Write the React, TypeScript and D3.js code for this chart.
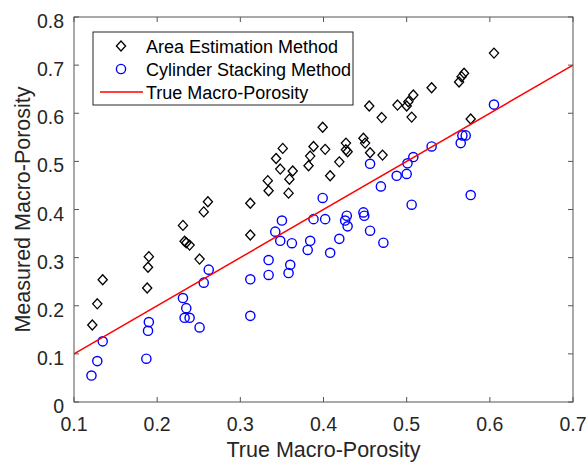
import React from 'react';
import * as d3 from 'd3';

// 面积估计法 (true, measured)
const areaX = [0.122, 0.128, 0.1345, 0.188, 0.189, 0.190, 0.231, 0.233, 0.235, 0.239, 0.251, 0.256, 0.261, 0.312, 0.312,
  0.333, 0.334, 0.343, 0.348, 0.351, 0.358, 0.359, 0.363, 0.382, 0.384, 0.388, 0.399, 0.402, 0.408, 0.419,
  0.427, 0.427, 0.429, 0.448, 0.450, 0.456, 0.471, 0.470, 0.455, 0.489, 0.500, 0.502, 0.508, 0.506, 0.530,
  0.563, 0.566, 0.569, 0.605, 0.577];
const areaY = [0.160, 0.204, 0.254, 0.237, 0.280, 0.302, 0.367, 0.334, 0.331, 0.326, 0.297, 0.395, 0.416, 0.413, 0.347,
  0.460, 0.439, 0.506, 0.484, 0.527, 0.434, 0.463, 0.480, 0.491, 0.511, 0.531, 0.571, 0.525, 0.470, 0.499,
  0.538, 0.524, 0.520, 0.548, 0.538, 0.518, 0.513, 0.591, 0.615, 0.617, 0.615, 0.624, 0.638, 0.592, 0.653,
  0.665, 0.676, 0.683, 0.725, 0.588];

// 圆柱堆叠法
const cylX = [0.121, 0.128, 0.1345, 0.187, 0.189, 0.190, 0.231, 0.235, 0.233, 0.239, 0.251, 0.256, 0.262, 0.312, 0.312,
  0.334, 0.334, 0.342, 0.350, 0.348, 0.362, 0.360, 0.358, 0.384, 0.381, 0.388, 0.402, 0.408, 0.399, 0.419,
  0.428, 0.426, 0.429, 0.448, 0.449, 0.456, 0.472, 0.456, 0.469, 0.488, 0.500, 0.501, 0.508, 0.506, 0.530,
  0.565, 0.567, 0.571, 0.577, 0.605];
const cylY = [0.055, 0.085, 0.126, 0.090, 0.148, 0.166, 0.216, 0.195, 0.175, 0.175, 0.155, 0.248, 0.275, 0.255, 0.179,
  0.295, 0.264, 0.354, 0.377, 0.335, 0.330, 0.285, 0.268, 0.335, 0.316, 0.380, 0.380, 0.310, 0.424, 0.339,
  0.387, 0.377, 0.365, 0.394, 0.387, 0.356, 0.331, 0.495, 0.448, 0.470, 0.474, 0.496, 0.509, 0.410, 0.531,
  0.538, 0.554, 0.554, 0.430, 0.618];

const trueLine = [0.1, 0.7];
const xTicks = [0.1, 0.2, 0.3, 0.4, 0.5, 0.6, 0.7];
const yTicks = [0, 0.1, 0.2, 0.3, 0.4, 0.5, 0.6, 0.7, 0.8];
const legendLabels = ['Area Estimation Method', 'Cylinder Stacking Method', 'True Macro-Porosity'];

const W = 588;
const H = 464;
const left = 74, right = 573, top = 17, bottom = 402;
const FONT = '"Liberation Sans", Arial, sans-serif';
const AXIS = '#555';
const TXT = '#262626';

export default function App() {
  const x = d3.scaleLinear().domain([0.1, 0.7]).range([left, right]);
  const y = d3.scaleLinear().domain([0, 0.8]).range([bottom, top]);
  const tl = 5; // 刻度长度

  const diamond = (cx: number, cy: number) =>
    `M${cx},${cy - 5}L${cx + 4.6},${cy}L${cx},${cy + 5}L${cx - 4.6},${cy}Z`;

  const lineGen = d3.line<number>().x(d => x(d)).y(d => y(d));

  const lgX = 93, lgY = 32, lgW = 260, lgH = 73;
  const rows = [46, 69, 92];

  return (
    <svg width={W} height={H} style={{ position: 'absolute', left: 0, top: 0, background: '#fff' }}
      fontFamily={FONT}>
      <rect x={0} y={0} width={W} height={H} fill="#fff" />

      {/* 数据点 */}
      {areaX.map((v, i) => (
        <path key={'a' + i} d={diamond(x(v), y(areaY[i]))} fill="none" stroke="#000" strokeWidth={1.3} />
      ))}
      {cylX.map((v, i) => (
        <circle key={'c' + i} cx={x(v)} cy={y(cylY[i])} r={4.6} fill="none" stroke="#0000ff" strokeWidth={1.4} />
      ))}
      <path d={lineGen(trueLine) || ''} stroke="#ff0000" strokeWidth={1.5} fill="none" />

      {/* 坐标框 */}
      <rect x={left} y={top} width={right - left} height={bottom - top} fill="none" stroke={AXIS} strokeWidth={1} />
      {xTicks.map(t => (
        <g key={'xt' + t}>
          <line x1={x(t)} x2={x(t)} y1={bottom} y2={bottom - tl} stroke={AXIS} />
          <line x1={x(t)} x2={x(t)} y1={top} y2={top + tl} stroke={AXIS} />
          <text x={x(t)} y={bottom + 29} textAnchor="middle" fontSize={19.5} fill={TXT}>{t}</text>
        </g>
      ))}
      {yTicks.map(t => (
        <g key={'yt' + t}>
          <line x1={left} x2={left + tl} y1={y(t)} y2={y(t)} stroke={AXIS} />
          <line x1={right} x2={right - tl} y1={y(t)} y2={y(t)} stroke={AXIS} />
          <text x={left - 10} y={y(t) + 11} textAnchor="end" fontSize={19.5} fill={TXT}>{t}</text>
        </g>
      ))}

      <text x={(left + right) / 2} y={457} textAnchor="middle" fontSize={21.5} fill={TXT}>True Macro-Porosity</text>
      <text transform={`translate(30,${(top + bottom) / 2}) rotate(-90)`} textAnchor="middle" fontSize={21.5} fill={TXT}>
        Measured Macro-Porosity
      </text>

      {/* 图例 */}
      <rect x={lgX} y={lgY} width={lgW} height={lgH} fill="#fff" stroke={TXT} strokeWidth={1} />
      <path d={diamond(121, rows[0])} fill="none" stroke="#000" strokeWidth={1.3} />
      <circle cx={121} cy={rows[1]} r={4.6} fill="none" stroke="#0000ff" strokeWidth={1.4} />
      <line x1={100} x2={143} y1={rows[2]} y2={rows[2]} stroke="#ff0000" strokeWidth={1.5} />
      {legendLabels.map((s, i) => (
        <text key={s} x={146} y={rows[i] + 6.5} fontSize={18} fill="#000">{s}</text>
      ))}
    </svg>
  );
}
